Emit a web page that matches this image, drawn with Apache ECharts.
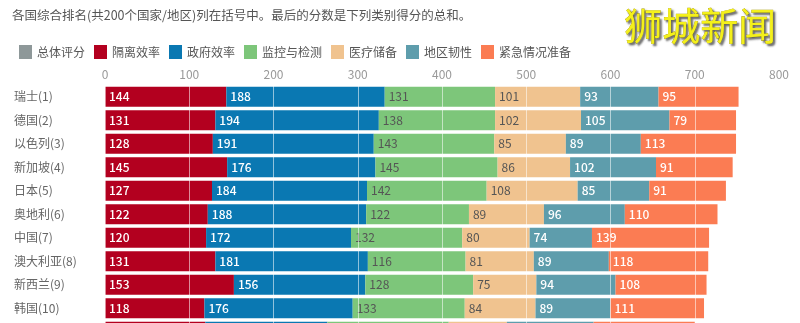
<!DOCTYPE html>
<html>
<head>
<meta charset="utf-8">
<script src="https://cdn.jsdelivr.net/npm/echarts@6/dist/echarts.min.js"></script>
<style>
html,body{margin:0;padding:0;background:#fff;}
#c{width:800px;height:323px;}
</style>
</head>
<body>
<div id="c"></div>
<script>
var categories = ['瑞士(1)','德国(2)','以色列(3)','新加坡(4)','日本(5)','奥地利(6)','中国(7)','澳大利亚(8)','新西兰(9)','韩国(10)','(11)'];
var seriesNames = ['总体评分','隔离效率','政府效率','监控与检测','医疗储备','地区韧性','紧急情况准备'];
var quarantine = [144,131,128,145,127,122,120,131,153,118,119];
var government = [188,194,191,176,184,188,172,181,156,176,145];
var monitoring = [131,138,143,145,142,122,132,116,128,133,144];
var healthcare = [101,102,85,86,108,89,80,81,75,84,69];
var resilience = [93,105,89,102,85,96,74,89,94,89,103];
var emergency = [95,79,113,91,91,110,139,118,108,111,120];
var xTicks = [0,100,200,300,400,500,600,700,800];

var colors = ['#8e9899','#b3001f','#0a78b2','#7dc67a','#f0c38f','#5e9dac','#fb7c53'];
var labelColors = [null,'#ffffff','#ffffff','#555555','#555555','#ffffff','#ffffff'];
var values = [null, quarantine, government, monitoring, healthcare, resilience, emergency];

var chart = echarts.init(document.getElementById('c'));
var FONT = '"Noto Sans CJK SC", "Noto Sans", sans-serif';

var series = seriesNames.map(function(name, i){
  if (i === 0) {
    return {name: name, type: 'bar', stack: 'total', data: [], itemStyle: {color: colors[0]}};
  }
  return {
    name: name,
    type: 'bar',
    stack: 'total',
    barWidth: 20,
    data: values[i],
    itemStyle: {color: colors[i]},
    label: {
      show: true,
      position: 'insideLeft',
      distance: 4,
      color: labelColors[i],
      fontSize: 12,
      fontFamily: FONT,
      fontWeight: labelColors[i] === '#ffffff' ? 500 : 'normal'
    },
    emphasis: {disabled: true}
  };
});

chart.setOption({
  animation: false,
  color: colors,
  textStyle: {fontFamily: FONT},
  graphic: [
    {type: 'text', left: 12, top: 9,
     style: {text: '各国综合排名(共200个国家/地区)列在括号中。最后的分数是下列类别得分的总和。',
       fill: '#555', font: '12.5px ' + FONT}},
    {type: 'text', left: 624, top: 6,
     style: {text: '狮城新闻', fill: '#f4f01a', font: 'normal 38px ' + FONT,
       stroke: '#a89a00', lineWidth: 0.6,
       textShadowColor: 'rgba(60,60,60,0.75)', textShadowOffsetX: 2, textShadowOffsetY: 2, textShadowBlur: 2}}
  ],
  legend: {
    data: seriesNames,
    left: 14,
    top: 40,
    icon: 'rect',
    itemWidth: 13,
    itemHeight: 14,
    itemGap: 9,
    textStyle: {fontSize: 12, color: '#555', fontFamily: FONT}
  },
  grid: {left: 105, right: 21, top: 85, height: 258.5, containLabel: false, outerBoundsMode: 'none'},
  xAxis: {
    type: 'value',
    position: 'top',
    min: xTicks[0],
    max: xTicks[xTicks.length - 1],
    interval: 100,
    z: 10,
    axisLine: {show: false},
    axisTick: {show: false},
    axisLabel: {color: '#999', fontSize: 12, margin: 5, fontFamily: FONT},
    splitLine: {show: true, lineStyle: {color: 'rgba(255,255,255,0.55)', width: 1}}
  },
  yAxis: {
    type: 'category',
    data: categories,
    inverse: true,
    axisLine: {show: false},
    axisTick: {show: false},
    axisLabel: {color: '#666', fontSize: 12, align: 'left', margin: 91, fontFamily: FONT}
  },
  series: series
});
</script>
</body>
</html>
